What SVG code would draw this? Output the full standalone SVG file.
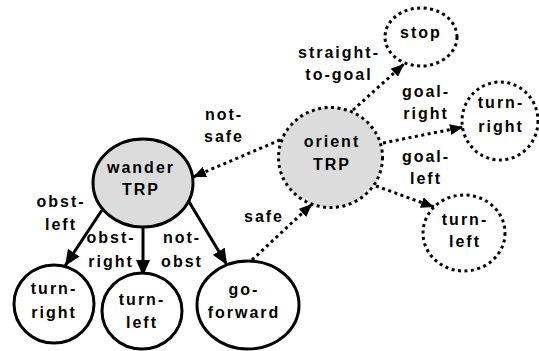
<svg xmlns="http://www.w3.org/2000/svg" width="539" height="351" viewBox="0 0 539 351">
  <style>
    text { font-family: "Liberation Sans", Arial, Helvetica, sans-serif; font-weight: bold; font-size: 16px; letter-spacing: 2px; text-anchor: middle; fill: #000; }
    .node { stroke: #000; stroke-width: 3; fill: #fff; }
    .trp { fill: #dcdcdc; }
    .dot { stroke-dasharray: 3 3.5; }
    .edge { stroke: #000; stroke-width: 3; fill: none; }
    .solid { marker-end: url(#arrowSolid); }
    .dotted { stroke-dasharray: 3 3.5; marker-end: url(#arrowDot); }
  </style>
  <defs>
    <marker id="arrowSolid" markerUnits="userSpaceOnUse" markerWidth="17" markerHeight="14" refX="16" refY="7" orient="auto">
      <path d="M0,0 L16,7 L0,14 z" fill="#000"/>
    </marker>
    <marker id="arrowDot" markerUnits="userSpaceOnUse" markerWidth="14" markerHeight="11" refX="13" refY="5.5" orient="auto">
      <path d="M0,0 L13,5.5 L0,11 z" fill="#000"/>
    </marker>
  </defs>

  <!-- connectors -->
  <g id="connectors">
    <line class="edge solid" x1="102" y1="210" x2="65" y2="266"/>
    <line class="edge solid" x1="143" y1="227" x2="143" y2="276"/>
    <line class="edge solid" x1="188" y1="200" x2="227" y2="265"/>
    <line class="edge dotted" x1="252" y1="260" x2="312" y2="204"/>
    <line class="edge dotted" x1="280" y1="140" x2="193" y2="177"/>
    <line class="edge dotted" x1="353" y1="110" x2="404" y2="64"/>
    <line class="edge dotted" x1="383" y1="143" x2="463" y2="127"/>
    <line class="edge dotted" x1="376" y1="186" x2="434" y2="207"/>

    <text x="224" y="120">not-</text>
    <text x="224" y="142">safe</text>
    <text x="339" y="58">straight-</text>
    <text x="339" y="80">to-goal</text>
    <text x="426" y="97">goal-</text>
    <text x="426" y="119">right</text>
    <text x="426" y="162">goal-</text>
    <text x="426" y="184">left</text>
    <text x="264" y="222">safe</text>
    <text x="61" y="207">obst-</text>
    <text x="61" y="230">left</text>
    <text x="111" y="243">obst-</text>
    <text x="111" y="267">right</text>
    <text x="182" y="243">not-</text>
    <text x="182" y="267">obst</text>
  </g>

  <g id="wander">
    <ellipse class="node trp" cx="143" cy="183" rx="50" ry="44"/>
    <text x="141" y="173">wander</text>
    <text x="141" y="195">TRP</text>
  </g>

  <g id="orient">
    <ellipse class="node trp dot" cx="330.5" cy="157.5" rx="52" ry="50"/>
    <text x="332" y="147">orient</text>
    <text x="332" y="170">TRP</text>
  </g>

  <g id="stop">
    <ellipse class="node dot" cx="421" cy="37" rx="36" ry="29"/>
    <text x="421" y="38">stop</text>
  </g>

  <g id="orient-turn-right">
    <ellipse class="node dot" cx="500" cy="121" rx="38" ry="39"/>
    <text x="501" y="108">turn-</text>
    <text x="501" y="132">right</text>
  </g>

  <g id="orient-turn-left">
    <ellipse class="node dot" cx="464" cy="233" rx="41" ry="38"/>
    <text x="465" y="225">turn-</text>
    <text x="465" y="247">left</text>
  </g>

  <g id="wander-turn-right">
    <ellipse class="node" cx="54" cy="304" rx="40" ry="39"/>
    <text x="54" y="294">turn-</text>
    <text x="54" y="318">right</text>
  </g>

  <g id="wander-turn-left">
    <ellipse class="node" cx="142" cy="311" rx="40" ry="38"/>
    <text x="142" y="305">turn-</text>
    <text x="142" y="328">left</text>
  </g>

  <g id="go-forward">
    <ellipse class="node" cx="248" cy="305" rx="51" ry="44"/>
    <text x="244" y="295">go-</text>
    <text x="244" y="318">forward</text>
  </g>
</svg>
